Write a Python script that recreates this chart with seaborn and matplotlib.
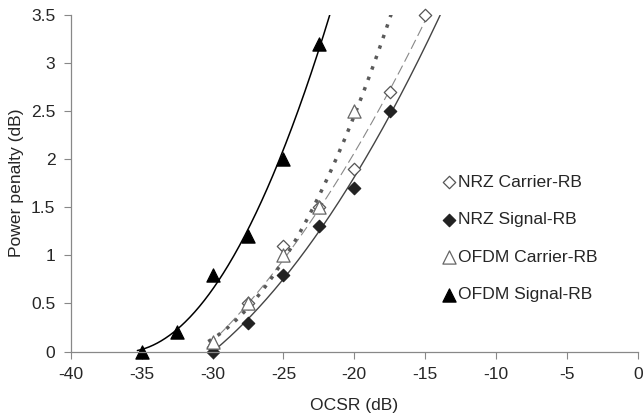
import numpy as np
import pandas as pd
import matplotlib
matplotlib.use("Agg")
import matplotlib.pyplot as plt
import seaborn as sns

# measured points (OCSR in dB, power penalty in dB)
nrz_carrier_x = [-30, -27.5, -25, -22.5, -20, -17.5, -15]
nrz_carrier_y = [0.05, 0.5, 1.1, 1.5, 1.9, 2.7, 3.5]
nrz_signal_x = [-30, -27.5, -25, -22.5, -20, -17.5]
nrz_signal_y = [0.0, 0.3, 0.8, 1.3, 1.7, 2.5]
ofdm_carrier_x = [-30, -27.5, -25, -22.5, -20]
ofdm_carrier_y = [0.1, 0.5, 1.0, 1.5, 2.5]
ofdm_signal_x = [-35, -32.5, -30, -27.5, -25, -22.5]
ofdm_signal_y = [0.0, 0.2, 0.8, 1.2, 2.0, 3.2]

series = ["NRZ Carrier-RB", "NRZ Signal-RB", "OFDM Carrier-RB", "OFDM Signal-RB"]
xs = [nrz_carrier_x, nrz_signal_x, ofdm_carrier_x, ofdm_signal_x]
ys = [nrz_carrier_y, nrz_signal_y, ofdm_carrier_y, ofdm_signal_y]

df = pd.concat([pd.DataFrame({"OCSR": x, "PP": y, "Series": s})
                for s, x, y in zip(series, xs, ys)], ignore_index=True)

sns.set_theme(style="white")
plt.rcParams['font.family'] = ['Liberation Sans', 'DejaVu Sans']
plt.rcParams['axes.unicode_minus'] = False

fig, ax = plt.subplots(figsize=(6.43, 4.19), dpi=100)
fig.subplots_adjust(left=0.110, right=0.992, top=0.965, bottom=0.161)

markers = {"NRZ Carrier-RB": "D", "NRZ Signal-RB": "D",
           "OFDM Carrier-RB": "^", "OFDM Signal-RB": "^"}
faces = {"NRZ Carrier-RB": "white", "NRZ Signal-RB": "#222222",
         "OFDM Carrier-RB": "white", "OFDM Signal-RB": "black"}
edges = {"NRZ Carrier-RB": "#555555", "NRZ Signal-RB": "#222222",
         "OFDM Carrier-RB": "#666666", "OFDM Signal-RB": "black"}
sizes = {"NRZ Carrier-RB": 40, "NRZ Signal-RB": 40,
         "OFDM Carrier-RB": 90, "OFDM Signal-RB": 90}
trend = {"NRZ Carrier-RB": dict(color="#888888", lw=0.8, ls=(0, (9, 4))),
         "NRZ Signal-RB": dict(color="#444444", lw=1.0, ls="-"),
         "OFDM Carrier-RB": dict(color="#5a5a5a", lw=2.5, ls=(0, (1, 2.2))),
         "OFDM Signal-RB": dict(color="black", lw=1.1, ls="-")}

# 2nd order polynomial trendlines, extended past the data (clipped by axes)
for s in series:
    d = df[df["Series"] == s]
    coef = np.polyfit(d["OCSR"], d["PP"], 2)
    xf = np.linspace(d["OCSR"].min() - 0.3, d["OCSR"].max() + 4, 300)
    fit = pd.DataFrame({"OCSR": xf, "PP": np.polyval(coef, xf)})
    sns.lineplot(data=fit, x="OCSR", y="PP", ax=ax, **trend[s])

for s in series:
    d = df[df["Series"] == s]
    sns.scatterplot(data=d, x="OCSR", y="PP", ax=ax, marker=markers[s],
                    s=sizes[s], facecolor=faces[s], edgecolor=edges[s],
                    linewidth=0.9, label=s, zorder=5, clip_on=False)

ax.set_xlim(-40, 0)
ax.set_ylim(0, 3.5)
ax.set_xticks(np.arange(-40, 1, 5))
ax.set_yticks(np.arange(0, 3.51, 0.5))
ax.set_yticklabels(["0", "0.5", "1", "1.5", "2", "2.5", "3", "3.5"])
ax.set_xlabel("OCSR (dB)", fontsize=12.6, labelpad=12)
ax.set_ylabel("Power penalty (dB)", fontsize=12.6, labelpad=5)
ax.tick_params(axis="both", labelsize=12.6, length=5, width=0.8,
               color="#888888", direction="out", bottom=True, left=True)
ax.tick_params(axis="x", pad=6)
ax.tick_params(axis="y", pad=6)
sns.despine(ax=ax)
for sp in ["left", "bottom"]:
    ax.spines[sp].set_color("#888888")
    ax.spines[sp].set_linewidth(0.9)
ax.spines["bottom"].set_zorder(6)

ax.legend(loc="center left", bbox_to_anchor=(0.64, 0.336), frameon=False,
          fontsize=12.6, handlelength=0.7, handletextpad=0.2,
          labelspacing=1.27, borderpad=0)

fig.savefig("out.png", dpi=100)
